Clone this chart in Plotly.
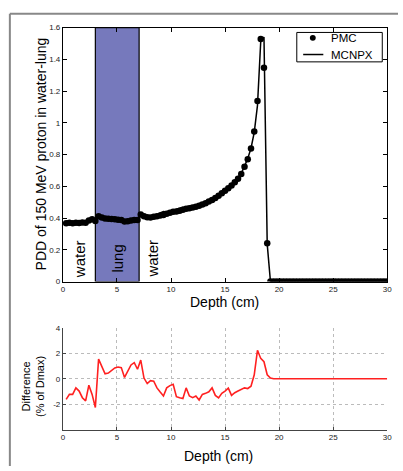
import plotly.graph_objects as go

W, H = 403, 471

depth = [0.3, 0.6, 0.9, 1.2, 1.5, 1.8, 2.1, 2.4, 2.7, 3.0,
         3.3, 3.6, 3.9, 4.2, 4.5, 4.8, 5.1, 5.4, 5.7, 6.0,
         6.3, 6.6, 6.9, 7.2, 7.5, 7.8, 8.1, 8.4, 8.7, 9.0,
         9.3, 9.6, 9.9, 10.2, 10.5, 10.8, 11.1, 11.4, 11.7, 12.0,
         12.3, 12.6, 12.9, 13.2, 13.5, 13.8, 14.1, 14.4, 14.7, 15.0,
         15.3, 15.6, 15.9, 16.2, 16.5, 16.8, 17.1, 17.4, 17.7, 18.0,
         18.3, 18.6, 18.9, 19.2, 19.5, 19.8, 20.1, 20.4, 20.7, 21.0,
         21.3, 21.6, 21.9, 22.2, 22.5, 22.8, 23.1, 23.4, 23.7, 24.0,
         24.3, 24.6, 24.9, 25.2, 25.5, 25.8, 26.1, 26.4, 26.7, 27.0,
         27.3, 27.6, 27.9, 28.2, 28.5, 28.8, 29.1, 29.4, 29.7, 30.0]

pmc = [0.368, 0.370, 0.368, 0.371, 0.369, 0.372, 0.370, 0.385, 0.392, 0.382,
       0.412, 0.404, 0.398, 0.396, 0.394, 0.392, 0.390, 0.388, 0.378, 0.380,
       0.385, 0.388, 0.388, 0.422, 0.412, 0.405, 0.404, 0.408, 0.412, 0.416,
       0.420, 0.428, 0.434, 0.440, 0.442, 0.446, 0.452, 0.458, 0.462, 0.466,
       0.472, 0.478, 0.486, 0.494, 0.504, 0.514, 0.526, 0.540, 0.556, 0.572,
       0.588, 0.605, 0.626, 0.647, 0.678, 0.723, 0.770, 0.838, 0.945, 1.137,
       1.528, 1.347, 0.241, 0.0, 0.0, 0.0, 0.0, 0.0, 0.0, 0.0,
       0.0, 0.0, 0.0, 0.0, 0.0, 0.0, 0.0, 0.0, 0.0, 0.0,
       0.0, 0.0, 0.0, 0.0, 0.0, 0.0, 0.0, 0.0, 0.0, 0.0,
       0.0, 0.0, 0.0, 0.0, 0.0, 0.0, 0.0, 0.0, 0.0, 0.0]

mcnpx = [0.374, 0.375, 0.373, 0.374, 0.373, 0.378, 0.377, 0.387, 0.397, 0.391,
         0.406, 0.400, 0.396, 0.393, 0.390, 0.388, 0.386, 0.385, 0.378, 0.378,
         0.380, 0.382, 0.385, 0.416, 0.412, 0.407, 0.405, 0.410, 0.418, 0.432,
         0.441, 0.439, 0.442, 0.447, 0.456, 0.460, 0.468, 0.462, 0.472, 0.475,
         0.480, 0.490, 0.494, 0.500, 0.509, 0.511, 0.520, 0.534, 0.550, 0.566,
         0.583, 0.612, 0.631, 0.654, 0.682, 0.727, 0.775, 0.840, 0.940, 1.110,
         1.510, 1.540, 0.236, 0.0, 0.0, 0.0, 0.0, 0.0, 0.0, 0.0,
         0.0, 0.0, 0.0, 0.0, 0.0, 0.0, 0.0, 0.0, 0.0, 0.0,
         0.0, 0.0, 0.0, 0.0, 0.0, 0.0, 0.0, 0.0, 0.0, 0.0,
         0.0, 0.0, 0.0, 0.0, 0.0, 0.0, 0.0, 0.0, 0.0, 0.0]

difference = [-1.62, -1.23, -1.23, -0.72, -0.97, -1.49, -1.74, -0.51, -1.23, -2.26,
              1.54, 0.95, 0.38, 0.44, 0.65, 0.85, 0.92, 0.87, 0.10, 0.56,
              1.08, 1.26, 0.74, 1.46, 0.05, -0.38, -0.15, -0.20, -0.72, -1.05,
              -1.36, -0.72, -0.54, -0.44, -1.41, -1.49, -1.56, -0.72, -1.36, -1.49,
              -1.36, -1.67, -1.23, -1.15, -1.03, -0.72, -1.31, -1.51, -1.15, -0.97,
              -0.74, -1.31, -1.10, -0.97, -0.85, -0.72, -0.77, -0.59, 0.31, 2.23,
              1.59, 1.33, 0.31, 0.05, 0.0, 0.0, 0.0, 0.0, 0.0, 0.0,
              0.0, 0.0, 0.0, 0.0, 0.0, 0.0, 0.0, 0.0, 0.0, 0.0,
              0.0, 0.0, 0.0, 0.0, 0.0, 0.0, 0.0, 0.0, 0.0, 0.0,
              0.0, 0.0, 0.0, 0.0, 0.0, 0.0, 0.0, 0.0, 0.0, 0.0]

x_ticks = [0, 5, 10, 15, 20, 25, 30]
pdd_ticks = [0, 0.2, 0.4, 0.6, 0.8, 1, 1.2, 1.4, 1.6]
diff_ticks = [-2, 0, 2, 4]
diff_tick_labels = ["-2", "0", "2", "4"]
lung_start, lung_end = 3.0, 7.05
regions = [("water", 1.5), ("lung", 5.05), ("water", 8.2)]
legend_names = ["PMC", "MCNPX"]

FONT = "Arial, Liberation Sans, sans-serif"

def px_x(p):
    return p / W

def px_y(p):
    return 1 - p / H

fig = go.Figure()

fig.add_trace(go.Scatter(x=depth, y=pmc, mode="markers", name=legend_names[0],
                         marker=dict(color="black", size=6.5),
                         showlegend=False, xaxis="x", yaxis="y"))
fig.add_trace(go.Scatter(x=depth, y=mcnpx, mode="lines", name=legend_names[1],
                         line=dict(color="black", width=1.5),
                         showlegend=False, xaxis="x", yaxis="y"))
fig.add_trace(go.Scatter(x=depth, y=difference, mode="lines", showlegend=False,
                         line=dict(color="#ff2020", width=1.6),
                         xaxis="x2", yaxis="y2"))

tickfont = dict(family=FONT, size=8, color="#222")

fig.update_layout(
    width=W, height=H,
    margin=dict(l=0, r=0, t=0, b=0),
    paper_bgcolor="white", plot_bgcolor="white",
    font=dict(family=FONT, color="black"),
    xaxis=dict(domain=[px_x(62), px_x(392)], anchor="y", range=[0, 30],
               tickvals=x_ticks, ticks="inside", ticklen=4, tickcolor="black",
               showline=True, linecolor="black", linewidth=1, mirror="ticks",
               showgrid=False, zeroline=False, tickfont=tickfont),
    yaxis=dict(domain=[px_y(283), px_y(24)], anchor="x", range=[0, 1.6],
               tickvals=pdd_ticks, ticks="inside", ticklen=4, tickcolor="black",
               showline=True, linecolor="black", linewidth=1, mirror="ticks",
               showgrid=False, zeroline=False, tickfont=tickfont),
    xaxis2=dict(domain=[px_x(62), px_x(392)], anchor="y2", range=[0, 30],
                tickvals=x_ticks, ticks="inside", ticklen=3, tickcolor="#444",
                showline=True, linecolor="#444", linewidth=1,
                showgrid=True, gridcolor="#bbbbbb", griddash="dot", gridwidth=1,
                zeroline=False, tickfont=tickfont),
    yaxis2=dict(domain=[px_y(434), px_y(330)], anchor="x2", range=[-4, 4],
                tickvals=diff_ticks, ticktext=diff_tick_labels,
                ticks="inside", ticklen=3, tickcolor="#444",
                showline=True, linecolor="#444", linewidth=1,
                showgrid=True, gridcolor="#bbbbbb", griddash="dot", gridwidth=1,
                zeroline=False, tickfont=tickfont),
    showlegend=False,
)

# lung band
fig.add_shape(type="rect", xref="x", yref="y", x0=lung_start, x1=lung_end,
              y0=0, y1=1.6, fillcolor="#7679bc", line=dict(color="black", width=1.2),
              layer="below")

# outer frame lines
fig.add_shape(type="line", xref="paper", yref="paper", x0=px_x(8), x1=1,
              y0=px_y(10), y1=px_y(10), line=dict(color="#888", width=2))
fig.add_shape(type="line", xref="paper", yref="paper", x0=px_x(8), x1=px_x(8),
              y0=0, y1=px_y(10), line=dict(color="#888", width=2))

# legend box (MATLAB style, compact)
fig.add_shape(type="rect", xref="paper", yref="paper",
              x0=px_x(300), x1=px_x(387), y0=px_y(59), y1=px_y(29),
              fillcolor="white", line=dict(color="black", width=1))
fig.add_shape(type="circle", xref="paper", yref="paper",
              x0=px_x(313.3), x1=px_x(319.3), y0=px_y(37.5), y1=px_y(31.5),
              fillcolor="black", line=dict(color="black", width=0))
fig.add_shape(type="line", xref="paper", yref="paper",
              x0=px_x(306.5), x1=px_x(327), y0=px_y(51.5), y1=px_y(51.5),
              line=dict(color="black", width=1.5))
fig.add_annotation(x=px_x(333), y=px_y(34.5), xref="paper", yref="paper",
                   text=legend_names[0], showarrow=False, xanchor="left", yanchor="middle",
                   font=dict(family=FONT, size=11.5, color="black"))
fig.add_annotation(x=px_x(333), y=px_y(51.5), xref="paper", yref="paper",
                   text=legend_names[1], showarrow=False, xanchor="left", yanchor="middle",
                   font=dict(family=FONT, size=11.5, color="black"))

# region labels
for label, xpos in regions:
    fig.add_annotation(x=xpos, y=0.142, xref="x", yref="y", text=label,
                       textangle=-90, showarrow=False,
                       xanchor="center", yanchor="middle",
                       font=dict(family=FONT, size=15, color="black"))

# axis titles
fig.add_annotation(x=px_x(40), y=px_y(153), xref="paper", yref="paper",
                   text="PDD of 150 MeV proton in water-lung", textangle=-90,
                   showarrow=False, xanchor="center", yanchor="middle",
                   font=dict(family=FONT, size=14, color="black"))
fig.add_annotation(x=px_x(226), y=px_y(304), xref="paper", yref="paper",
                   text="Depth (cm)", showarrow=False,
                   xanchor="center", yanchor="middle",
                   font=dict(family=FONT, size=14, color="black"))
fig.add_annotation(x=px_x(31), y=px_y(390), xref="paper", yref="paper",
                   text="Difference<br>(% of Dmax)", textangle=-90,
                   showarrow=False, xanchor="center", yanchor="middle",
                   font=dict(family=FONT, size=11, color="black"))
fig.add_annotation(x=px_x(220), y=px_y(461), xref="paper", yref="paper",
                   text="Depth (cm)", showarrow=False,
                   xanchor="center", yanchor="middle",
                   font=dict(family=FONT, size=14, color="black"))

fig.write_html("out.html", config={"displayModeBar": False},
               post_script="document.body.style.margin='0px';document.body.style.padding='0px';")
